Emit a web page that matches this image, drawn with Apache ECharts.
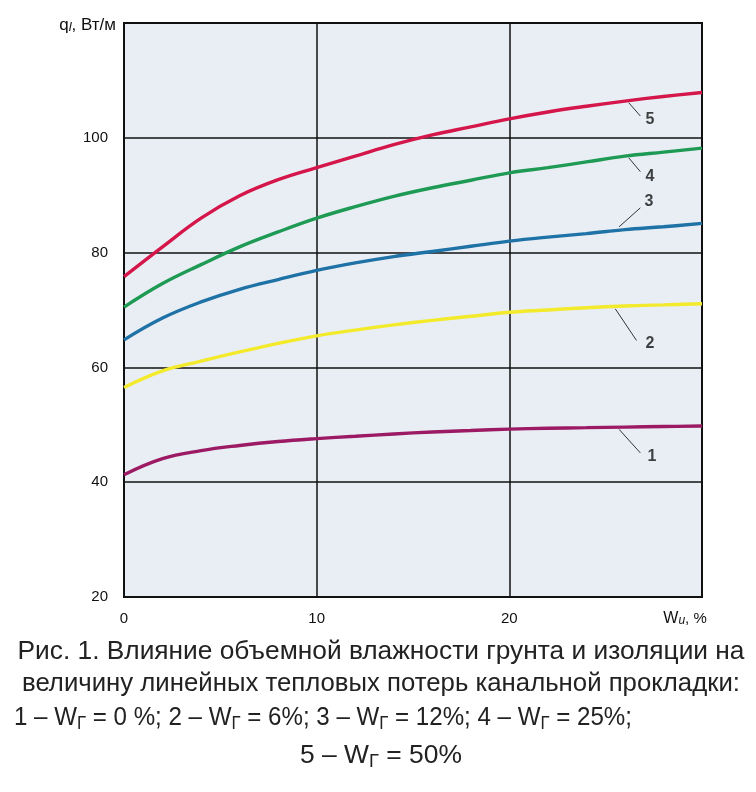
<!DOCTYPE html>
<html><head><meta charset="utf-8">
<script src="https://cdn.jsdelivr.net/npm/echarts@6/dist/echarts.min.js"></script>
<style>html,body{margin:0;padding:0;background:#fff}#c{width:756px;height:792px}</style>
</head><body><div id="c"></div>
<script>
// ---- data ----
const xValues = [0, 2, 4, 6, 8, 10, 12, 14, 16, 18, 20, 22, 24, 26, 28, 30];
const curve1 = [41.3, 44.1, 45.5, 46.4, 47.1, 47.6, 48.0, 48.4, 48.75, 49.0, 49.25, 49.4, 49.5, 49.6, 49.7, 49.8];
const curve2 = [56.5, 59.4, 61.1, 62.7, 64.2, 65.5, 66.5, 67.4, 68.2, 68.9, 69.6, 70.0, 70.4, 70.7, 70.9, 71.1];
const curve3 = [64.8, 68.6, 71.4, 73.6, 75.3, 76.9, 78.2, 79.3, 80.2, 81.1, 82.0, 82.7, 83.3, 84.0, 84.5, 85.1];
const curve4 = [70.5, 74.6, 77.9, 81.0, 83.6, 86.0, 88.0, 89.8, 91.3, 92.6, 93.9, 94.8, 95.8, 96.8, 97.5, 98.2];
const curve5 = [75.8, 81.0, 86.0, 89.9, 92.7, 94.8, 96.8, 98.8, 100.5, 101.9, 103.3, 104.5, 105.5, 106.4, 107.2, 107.9];
const curveNames = ['1', '2', '3', '4', '5'];
const xTicks = [0, 10, 20];
const yTicks = [20, 40, 60, 80, 100];
// leader lines for curve numbers (data coordinates)
const leaderFrom = [[25.7, 49.2], [25.5, 70.2], [25.7, 84.5], [26.2, 96.5], [26.2, 106.1]];
const leaderTo = [[26.8, 45.1], [26.6, 64.7], [26.8, 87.8], [26.8, 94.1], [26.8, 103.8]];
const labelAt = [[27.4, 44.5], [27.3, 64.1], [27.25, 88.9], [27.3, 93.3], [27.3, 103.2]];
const captionLines = [
  'Рис. 1. Влияние объемной влажности грунта и изоляции на',
  'величину линейных тепловых потерь канальной прокладки:',
  '1 – W{s|Г} = 0 %; 2 – W{s|Г} = 6%; 3 – W{s|Г} = 12%; 4 – W{s|Г} = 25%;',
  '5 – W{s|Г} = 50%'
];

const curves = [curve1, curve2, curve3, curve4, curve5];
const colors = ['#9c1a63', '#f2ea2a', '#1f72a6', '#1e9a55', '#d4164a'];

const series = curves.map((c, i) => ({
  type: 'line', name: curveNames[i], data: xValues.map((x, j) => [x, c[j]]),
  smooth: 0.4, symbol: 'none', silent: true,
  lineStyle: { color: colors[i], width: 3.4 }, z: 3
}));
curveNames.forEach((n, i) => {
  series.push({
    type: 'line', data: [leaderFrom[i], leaderTo[i]], symbol: 'none', silent: true,
    lineStyle: { color: '#333', width: 1 }, z: 4
  });
});
series.push({
  type: 'scatter', symbolSize: 0, silent: true, z: 5,
  data: labelAt.map((p, i) => ({ value: p, name: curveNames[i] })),
  label: { show: true, position: 'inside', formatter: p => p.name,
    fontFamily: 'Liberation Sans, Arial', fontWeight: 'bold', fontSize: 16, color: '#111' }
});

// caption: Arial-like font scaled horizontally per line to match the reference widths
const capFont = '"Liberation Sans", Arial';
const capSize = 26, subSize = 18;
const capTargetW = [727, 718, 618, 162];
const mctx = document.createElement('canvas').getContext('2d');
function measureRich(t) {
  let w = 0;
  t.split(/(\{s\|[^}]*\})/).forEach(part => {
    const m = part.match(/^\{s\|([^}]*)\}$/);
    if (m) { mctx.font = subSize + 'px ' + capFont; w += mctx.measureText(m[1]).width; }
    else if (part) { mctx.font = capSize + 'px ' + capFont; w += mctx.measureText(part).width; }
  });
  return w;
}
const rich = { s: { fontSize: subSize, lineHeight: 12, verticalAlign: 'bottom', fontFamily: capFont, fill: '#222' } };
const capY = [652, 684, 718, 756];
const capX = [381, 381, 14, 381];
const graphic = captionLines.map((t, i) => ({
  type: 'text', x: capX[i], y: capY[i], scaleX: capTargetW[i] / measureRich(t),
  style: { text: t, rich: rich, font: capSize + 'px ' + capFont, fill: '#222', lineHeight: 30,
    align: i === 2 ? 'left' : 'center', verticalAlign: 'middle' }
}));

const chart = echarts.init(document.getElementById('c'), null, { renderer: 'canvas' });
chart.setOption({
  backgroundColor: '#ffffff',
  animation: false,
  grid: { left: 124, right: 54, top: 23, bottom: 195, show: true, backgroundColor: '#e9eef5', borderColor: '#111', borderWidth: 2 },
  xAxis: {
    type: 'value', min: 0, max: 30, interval: 10,
    axisLine: { show: true, lineStyle: { color: '#111', width: 2 } },
    axisTick: { show: false },
    splitLine: { show: true, lineStyle: { color: '#111', width: 1.5 } },
    axisLabel: {
      margin: 14, color: '#111', fontSize: 15, fontFamily: 'Liberation Sans, Arial',
      formatter: v => v === 30 ? '{w|W}{i|и}{e|, %}' : (xTicks.includes(v) ? String(v) : ''),
      rich: {
        w: { fontSize: 16, color: '#111' },
        e: { fontSize: 15, color: '#111', padding: [0, 34, 0, 0] },
        i: { fontSize: 12, color: '#111', fontStyle: 'italic', verticalAlign: 'bottom', lineHeight: 10 }
      }
    }
  },
  yAxis: {
    type: 'value', min: 20, max: 120, interval: 20,
    axisLine: { show: true, lineStyle: { color: '#111', width: 2 } },
    axisTick: { show: false },
    splitLine: { show: true, lineStyle: { color: '#111', width: 1.5 } },
    axisLabel: { margin: 16, color: '#111', fontSize: 15, fontFamily: 'Liberation Sans, Arial',
      formatter: v => yTicks.includes(v) ? String(v) : '' },
    name: '{q|q}{l|l}{q|, Вт/м}', nameLocation: 'end', nameGap: -2,
    nameTextStyle: { align: 'right', verticalAlign: 'middle', padding: [0, 8, 0, 0], color: '#111',
      rich: { q: { fontSize: 17, color: '#111', fontFamily: 'Liberation Sans, Arial' },
              l: { fontSize: 13, fontStyle: 'italic', color: '#111', verticalAlign: 'bottom', lineHeight: 10 } } }
  },
  series: series,
  graphic: graphic
});
</script></body></html>
